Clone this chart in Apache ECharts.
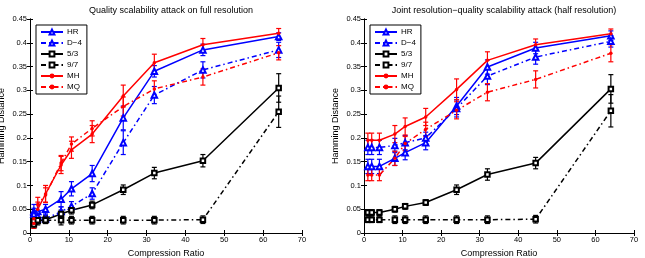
<!DOCTYPE html>
<html>
<head>
<meta charset="utf-8">
<script src="https://cdn.jsdelivr.net/npm/echarts@6/dist/echarts.min.js"></script>
<style>
html, body { margin: 0; padding: 0; background: #fff; }
#chart { width: 645px; height: 258px; }
</style>
</head>
<body>
<div id="chart"></div>
<script>
// compression ratios
var ratios = [1, 2, 4, 8, 10.67, 16, 24, 32, 44.5, 64];
var names = ['HR', 'D\u22124', '5/3', '9/7', 'MH', 'MQ'];

// left: quality scalability attack on full resolution
var fullHR  = [0.045, 0.045, 0.05, 0.071, 0.093, 0.125, 0.242, 0.340, 0.385, 0.413];
var fullD4  = [0.040, 0.035, 0.030, 0.045, 0.056, 0.083, 0.190, 0.290, 0.343, 0.385];
var full53  = [0.018, 0.025, 0.028, 0.040, 0.048, 0.059, 0.091, 0.126, 0.152, 0.305];
var full97  = [0.025, 0.027, 0.027, 0.027, 0.027, 0.027, 0.027, 0.027, 0.028, 0.255];
var fullMH  = [0.020, 0.050, 0.082, 0.143, 0.175, 0.208, 0.288, 0.358, 0.396, 0.420];
var fullMQ  = [0.030, 0.060, 0.080, 0.147, 0.187, 0.220, 0.266, 0.303, 0.328, 0.379];
var fullErrHR = [0.015, 0.015, 0.010, 0.016, 0.015, 0.017, 0.025, 0.012, 0.012, 0.008];
var fullErrD4 = [0.012, 0.010, 0.008, 0.010, 0.010, 0.012, 0.025, 0.018, 0.017, 0.016];
var fullErr53 = [0.008, 0.008, 0.008, 0.008, 0.008, 0.008, 0.010, 0.012, 0.013, 0.030];
var fullErr97 = [0.007, 0.007, 0.007, 0.010, 0.008, 0.008, 0.008, 0.008, 0.008, 0.033];
var fullErrMH = [0.010, 0.015, 0.018, 0.018, 0.018, 0.018, 0.023, 0.018, 0.013, 0.010];
var fullErrMQ = [0.010, 0.015, 0.015, 0.016, 0.015, 0.016, 0.020, 0.017, 0.017, 0.015];

// right: joint resolution-quality attack (half resolution)
var halfHR  = [0.140, 0.140, 0.140, 0.157, 0.169, 0.190, 0.267, 0.349, 0.389, 0.415];
var halfD4  = [0.180, 0.180, 0.180, 0.184, 0.190, 0.200, 0.262, 0.330, 0.370, 0.403];
var half53  = [0.043, 0.043, 0.043, 0.050, 0.056, 0.064, 0.091, 0.123, 0.147, 0.303];
var half97  = [0.028, 0.028, 0.028, 0.028, 0.028, 0.028, 0.028, 0.028, 0.029, 0.257];
var halfMH  = [0.195, 0.195, 0.195, 0.208, 0.224, 0.244, 0.302, 0.363, 0.396, 0.419];
var halfMQ  = [0.122, 0.122, 0.122, 0.157, 0.188, 0.218, 0.258, 0.296, 0.323, 0.378];
var halfErrHR = [0.015, 0.015, 0.015, 0.015, 0.015, 0.015, 0.018, 0.015, 0.012, 0.010];
var halfErrD4 = [0.015, 0.015, 0.015, 0.015, 0.015, 0.012, 0.018, 0.018, 0.015, 0.012];
var halfErr53 = [0.006, 0.006, 0.006, 0.006, 0.006, 0.006, 0.010, 0.012, 0.012, 0.030];
var halfErr97 = [0.006, 0.006, 0.006, 0.008, 0.008, 0.008, 0.008, 0.008, 0.008, 0.034];
var halfErrMH = [0.015, 0.015, 0.015, 0.018, 0.018, 0.018, 0.022, 0.018, 0.012, 0.010];
var halfErrMQ = [0.012, 0.012, 0.012, 0.015, 0.015, 0.015, 0.018, 0.018, 0.018, 0.018];

var dashDot = [5, 3, 1.5, 3];
var styles = [
    {color: '#0000ff', type: 'solid', symbol: 'emptyTriangle', size: 5.5},
    {color: '#0000ff', type: dashDot, symbol: 'emptyTriangle', size: 5.5},
    {color: '#000000', type: 'solid', symbol: 'emptyRect', size: 4.5},
    {color: '#000000', type: dashDot, symbol: 'emptyRect', size: 4.5},
    {color: '#ff0000', type: 'solid', symbol: 'circle', size: 3.5},
    {color: '#ff0000', type: dashDot, symbol: 'circle', size: 3.5}
];

var fullSets = [fullHR, fullD4, full53, full97, fullMH, fullMQ];
var fullErrs = [fullErrHR, fullErrD4, fullErr53, fullErr97, fullErrMH, fullErrMQ];
var halfSets = [halfHR, halfD4, half53, half97, halfMH, halfMQ];
var halfErrs = [halfErrHR, halfErrD4, halfErr53, halfErr97, halfErrMH, halfErrMQ];

var font = 'Liberation Sans';

function errItem(params, api) {
    var x = api.value(0);
    var lo = api.coord([x, api.value(1)]);
    var hi = api.coord([x, api.value(2)]);
    var c = api.visual('color');
    var w = 2.5;
    var st = {stroke: c, lineWidth: 1.2};
    return {
        type: 'group',
        children: [
            {type: 'line', shape: {x1: lo[0], y1: lo[1], x2: hi[0], y2: hi[1]}, style: st},
            {type: 'line', shape: {x1: lo[0] - w, y1: lo[1], x2: lo[0] + w, y2: lo[1]}, style: st},
            {type: 'line', shape: {x1: hi[0] - w, y1: hi[1], x2: hi[0] + w, y2: hi[1]}, style: st}
        ]
    };
}

var series = [];
function addSets(sets, errs, axisIdx) {
    for (var i = 0; i < sets.length; i++) {
        var s = styles[i];
        var pts = [];
        var bars = [];
        for (var j = 0; j < ratios.length; j++) {
            pts.push([ratios[j], sets[i][j]]);
            bars.push([ratios[j], sets[i][j] - errs[i][j], sets[i][j] + errs[i][j]]);
        }
        series.push({
            type: 'custom',
            name: names[i] + ' err',
            xAxisIndex: axisIdx, yAxisIndex: axisIdx,
            renderItem: errItem,
            itemStyle: {color: s.color},
            encode: {x: 0, y: [1, 2]},
            data: bars,
            silent: true,
            z: 2
        });
        series.push({
            type: 'line',
            name: names[i],
            xAxisIndex: axisIdx, yAxisIndex: axisIdx,
            data: pts,
            symbol: s.symbol,
            symbolSize: s.size,
            showSymbol: true,
            itemStyle: {color: s.color, borderWidth: 1.1},
            lineStyle: {color: s.color, width: 1.5, type: s.type},
            z: 3
        });
    }
}
addSets(fullSets, fullErrs, 0);
addSets(halfSets, halfErrs, 1);

function xAxisFor(grid, top) {
    return {
        type: 'value', gridIndex: grid, min: 0, max: 70, interval: 10,
        position: top ? 'top' : 'bottom',
        name: top ? '' : 'Compression Ratio',
        nameLocation: 'middle', nameGap: 15,
        nameTextStyle: {fontFamily: font, fontSize: 9, color: '#000'},
        axisLine: {show: true, lineStyle: {color: '#000', width: 1}},
        axisTick: {show: true, inside: true, length: 3, lineStyle: {color: '#000'}},
        axisLabel: {show: !top, fontFamily: font, fontSize: 7.5, color: '#000', margin: 3},
        splitLine: {show: false}
    };
}
function yAxisFor(grid, right) {
    return {
        type: 'value', gridIndex: grid, min: 0, max: 0.45, interval: 0.05,
        position: right ? 'right' : 'left',
        name: right ? '' : 'Hamming Distance',
        nameLocation: 'middle', nameGap: 24,
        nameTextStyle: {fontFamily: font, fontSize: 9, color: '#000'},
        axisLine: {show: true, lineStyle: {color: '#000', width: 1}},
        axisTick: {show: true, inside: true, length: 3, lineStyle: {color: '#000'}},
        axisLabel: {show: !right, fontFamily: font, fontSize: 7.5, color: '#000', margin: 3},
        splitLine: {show: false}
    };
}

function legendFor(left) {
    return {
        data: names,
        orient: 'vertical',
        left: left, top: 25,
        backgroundColor: '#fff',
        borderColor: '#000', borderWidth: 1,
        padding: [3, 5, 3, 4],
        itemWidth: 22, itemHeight: 6, itemGap: 3,
        textStyle: {fontFamily: font, fontSize: 8, color: '#000', padding: [0, 0, 0, -1]},
        selectedMode: false
    };
}

var chart = echarts.init(document.getElementById('chart'));
var option = {
    animation: false,
    backgroundColor: '#fff',
    title: [
        {text: 'Quality scalability attack on full resolution', left: 166, top: 1, textAlign: 'center',
         textStyle: {fontFamily: font, fontSize: 9, fontWeight: 'normal', color: '#000'}},
        {text: 'Joint resolution\u2212quality scalability attack (half resolution)', left: 499, top: 1, textAlign: 'center',
         textStyle: {fontFamily: font, fontSize: 9, fontWeight: 'normal', color: '#000'}}
    ],
    legend: [legendFor(36), legendFor(370)],
    grid: [
        {left: 30, right: 343, top: 19, bottom: 25, outerBoundsMode: 'none'},
        {left: 364, right: 11, top: 19, bottom: 25, outerBoundsMode: 'none'}
    ],
    xAxis: [xAxisFor(0, false), xAxisFor(1, false), xAxisFor(0, true), xAxisFor(1, true)],
    yAxis: [yAxisFor(0, false), yAxisFor(1, false), yAxisFor(0, true), yAxisFor(1, true)],
    series: series
};
chart.setOption(option);
</script>
</body>
</html>
